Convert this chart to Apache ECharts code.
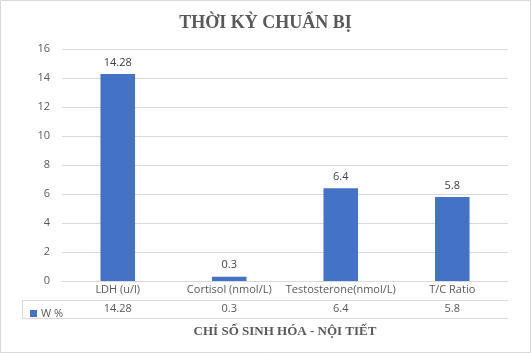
<!DOCTYPE html>
<html>
<head>
<meta charset="utf-8">
<script src="https://cdn.jsdelivr.net/npm/echarts@6/dist/echarts.min.js"></script>
<style>
  html, body { margin: 0; padding: 0; background: #fff; }
  #chart { width: 531px; height: 353px; }
</style>
</head>
<body>
<div id="chart"></div>
<script>
  var categories = ['LDH (u/l)', 'Cortisol (nmol/L)', 'Testosterone(nmol/L)', 'T/C Ratio']
  var values = [14.28, 0.3, 6.4, 5.8]
  var seriesName = 'W %'

  var chart = echarts.init(document.getElementById('chart'))
  var gridColor = '#d9d9d9'
  var textColor = '#595959'
  var font = '"Open Sans", "Noto Sans", sans-serif'

  var option = {
    animation: false,
    title: {
      text: 'THỜI KỲ CHUẨN BỊ',
      left: 'center',
      top: 9,
      textStyle: { fontFamily: '"Liberation Serif", serif', fontSize: 18, fontWeight: 'bold', color: textColor }
    },
    legend: {
      data: [seriesName],
      left: 25,
      top: 303,
      itemWidth: 7,
      itemHeight: 7,
      itemGap: 4,
      icon: 'rect',
      selectedMode: false,
      textStyle: { fontFamily: font, fontSize: 11, color: textColor, padding: [0, 0, 0, -1] }
    },
    grid: { left: 62, right: 23, top: 49, bottom: 72 },
    xAxis: [
      {
        type: 'category',
        data: categories,
        position: 'bottom',
        axisLine: { lineStyle: { color: gridColor } },
        axisTick: { length: 19, lineStyle: { color: gridColor } },
        axisLabel: { margin: 3, fontFamily: font, fontSize: 11, color: textColor, interval: 0 },
        name: 'CHỈ SỐ SINH HÓA - NỘI TIẾT',
        nameLocation: 'middle',
        nameGap: 44,
        nameTextStyle: { fontFamily: '"Liberation Serif", serif', fontSize: 13, fontWeight: 'bold', color: textColor }
      },
      {
        type: 'category',
        data: values.map(String),
        position: 'bottom',
        offset: 19,
        axisLine: { lineStyle: { color: gridColor } },
        axisTick: { length: 18, lineStyle: { color: gridColor } },
        axisLabel: { margin: 3, fontFamily: font, fontSize: 11, color: textColor, interval: 0 }
      },
      {
        type: 'category',
        data: categories,
        position: 'bottom',
        offset: 37,
        axisLine: { lineStyle: { color: gridColor } },
        axisTick: { show: false },
        axisLabel: { show: false }
      }
    ],
    yAxis: {
      type: 'value',
      min: 0,
      max: 16,
      interval: 2,
      axisLine: { show: false },
      axisTick: { show: false },
      axisLabel: { margin: 12, fontFamily: font, fontSize: 11, color: textColor },
      splitLine: { lineStyle: { color: gridColor } }
    },
    graphic: [
      { type: 'rect', shape: { x: 0.5, y: 0.5, width: 530, height: 352 }, style: { fill: 'none', stroke: gridColor }, silent: true },
      { type: 'polyline', shape: { points: [[62, 300.5], [22.5, 300.5], [22.5, 318.5], [62, 318.5]] }, style: { fill: 'none', stroke: gridColor }, silent: true }
    ],
    series: [{
      name: seriesName,
      type: 'bar',
      xAxisIndex: 0,
      data: values,
      barWidth: '31%',
      itemStyle: { color: '#4472C4' },
      label: { show: true, position: 'top', distance: 6, fontFamily: font, fontSize: 11, color: '#404040' }
    }]
  }

  chart.setOption(option)
</script>
</body>
</html>
